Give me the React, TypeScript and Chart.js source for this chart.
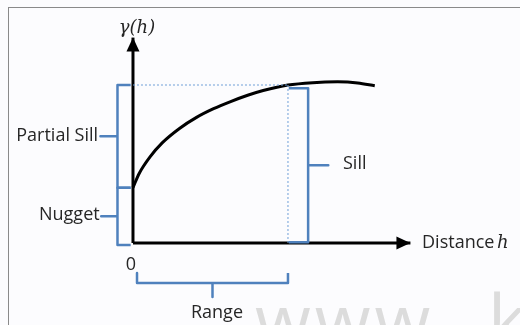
import React, { useEffect, useRef } from "react";
import { Chart, registerables } from "chart.js";

Chart.register(...registerables);

// ---- data (semivariogram sketch) ----
const NUGGET = 3.5;
const SILL = 10;
const RANGE = 10;

// curve: distance h -> gamma(h)
const distance = [0, 0.4, 1.1, 1.9, 3.0, 4.1, 5.2, 6.3, 7.4, 8.4, 10, 11.6, 13.2, 14.5, 15.6];
const gamma = [3.5, 4.4, 5.45, 6.35, 7.25, 7.95, 8.5, 8.95, 9.35, 9.65, 10, 10.15, 10.2, 10.13, 9.95];

const X_AXIS_END = 17.9;
const Y_AXIS_END = 13;

const yAxisTitle = "γ(h)";
const xAxisTitle = ["Distance", "h"];
const bracketLabels = ["Partial Sill", "Nugget", "Sill", "Range"];
const originLabel = "0";
const watermark = "www.k";

// scale window (data units)
const X_MIN = -8.58;
const X_MAX = 24.97;
const Y_MIN = -5.19;
const Y_MAX = 15.38;

type P = { x: number; y: number };

// vertical bracket: caps towards capX, tick towards tickX
function vBracket(lo: number, hi: number, x: number, capX: number, tickX: number): P[] {
  const mid = (lo + hi) / 2;
  return [
    { x: capX, y: hi },
    { x, y: hi },
    { x, y: mid },
    { x: tickX, y: mid },
    { x, y: mid },
    { x, y: lo },
    { x: capX, y: lo },
  ];
}
function hBracket(lo: number, hi: number, y: number, capY: number, tickY: number): P[] {
  const mid = (lo + hi) / 2;
  return [
    { x: lo, y: capY },
    { x: lo, y },
    { x: mid, y },
    { x: mid, y: tickY },
    { x: mid, y },
    { x: hi, y },
    { x: hi, y: capY },
  ];
}

const BLUE = "#4f81bd";
const TEXT = "#262626";

const labelPlugin = {
  id: "labels",
  afterDatasetsDraw(chart: any) {
    const ctx = chart.ctx as CanvasRenderingContext2D;
    const xs = chart.scales.x;
    const ys = chart.scales.y;
    const px = (v: number) => xs.getPixelForValue(v);
    const py = (v: number) => ys.getPixelForValue(v);

    // arrow heads
    chart.data.datasets.forEach((ds: any) => {
      if (!ds.arrow) return;
      const d = ds.data as P[];
      const a = d[d.length - 2];
      const b = d[d.length - 1];
      const x1 = px(a.x), y1 = py(a.y), x2 = px(b.x), y2 = py(b.y);
      const ang = Math.atan2(y2 - y1, x2 - x1);
      const L = 14, W = 6.5;
      ctx.save();
      ctx.fillStyle = "#000";
      ctx.beginPath();
      ctx.moveTo(x2, y2);
      ctx.lineTo(x2 - L * Math.cos(ang) + W * Math.sin(ang), y2 - L * Math.sin(ang) - W * Math.cos(ang));
      ctx.lineTo(x2 - L * Math.cos(ang) - W * Math.sin(ang), y2 - L * Math.sin(ang) + W * Math.cos(ang));
      ctx.closePath();
      ctx.fill();
      ctx.restore();
    });

    ctx.save();
    ctx.textBaseline = "middle";
    ctx.fillStyle = TEXT;
    const sans = "18px 'Open Sans', sans-serif";

    // watermark
    ctx.save();
    ctx.fillStyle = "#dcdcdc";
    ctx.font = "72px 'Open Sans', sans-serif";
    ctx.textBaseline = "alphabetic";
    ctx.textAlign = "left";
    (ctx as any).letterSpacing = "4px";
    ctx.fillText(watermark.slice(0, 4), px(7.87), py(-6.5));
    ctx.fillText(watermark.slice(4), px(22.9), py(-6.5));
    ctx.restore();

    ctx.font = "italic 18px 'DejaVu Serif', serif";
    ctx.textAlign = "center";
    ctx.fillText(yAxisTitle, px(0.26), py(13.6));

    ctx.font = sans;
    ctx.textAlign = "right";
    ctx.fillText(bracketLabels[0], px(-2.25), py((NUGGET + SILL) / 2));
    ctx.fillText(bracketLabels[1], px(-2.15), py(NUGGET / 2));
    ctx.textAlign = "left";
    ctx.fillText(bracketLabels[2], px(13.55), py(SILL / 2));
    ctx.textAlign = "center";
    ctx.fillText(originLabel, px(-0.13), py(-1.39));
    ctx.fillText(bracketLabels[3], px(5.42), py(-4.43));

    ctx.textAlign = "left";
    ctx.fillText(xAxisTitle[0] + " ", px(18.65), py(0));
    const w = ctx.measureText(xAxisTitle[0] + " ").width;
    ctx.font = "italic 18px 'DejaVu Serif', serif";
    ctx.fillText(xAxisTitle[1], px(18.65) + w - 2, py(0));
    ctx.restore();
  },
};

export default function App() {
  const ref = useRef<HTMLCanvasElement | null>(null);

  useEffect(() => {
    document.body.style.margin = "0";
    document.body.style.background = "#fcfcfe";
    const canvas = ref.current!;
    const curve: P[] = distance.map((x, i) => ({ x, y: gamma[i] }));

    const line = (data: P[], color: string, width: number, extra: any = {}) => ({
      data,
      showLine: true,
      borderColor: color,
      backgroundColor: color,
      borderWidth: width,
      pointRadius: 0,
      tension: 0,
      borderJoinStyle: "round",
      borderCapStyle: "butt",
      ...extra,
    });

    const chart = new Chart(canvas, {
      type: "scatter",
      data: {
        datasets: [
          line([{ x: 0, y: SILL }, { x: RANGE, y: SILL }], "#6f9fd8", 1, { borderDash: [2, 2] }),
          line([{ x: RANGE, y: SILL }, { x: RANGE, y: 0 }], "#6f9fd8", 1, { borderDash: [2, 2] }),
          line(vBracket(NUGGET, SILL, -1.0, -0.15, -2.1), BLUE, 2.5),
          line(vBracket(-0.12, NUGGET, -1.0, -0.15, -2.05), BLUE, 2.5),
          line(vBracket(0.05, SILL - 0.2, RANGE + 1.3, RANGE + 0.05, RANGE + 2.6), BLUE, 2.5),
          line(hBracket(0.26, RANGE, -2.53, -1.9, -3.42), BLUE, 2.5),
          line(curve, "#000", 3, { cubicInterpolationMode: "monotone" }),
          line([{ x: 0, y: 0 }, { x: X_AXIS_END - 0.6, y: 0 }, { x: X_AXIS_END, y: 0 }], "#000", 3, { arrow: true }),
          line([{ x: 0, y: 0 }, { x: 0, y: Y_AXIS_END - 0.6 }, { x: 0, y: Y_AXIS_END }], "#000", 3, { arrow: true }),
        ] as any,
      },
      options: {
        responsive: false,
        animation: false,
        devicePixelRatio: 1,
        layout: { padding: 0 },
        events: [],
        plugins: { legend: { display: false }, tooltip: { enabled: false } },
        scales: {
          x: { type: "linear", display: false, min: X_MIN, max: X_MAX },
          y: { type: "linear", display: false, min: Y_MIN, max: Y_MAX },
        },
      },
      plugins: [labelPlugin],
    });
    return () => chart.destroy();
  }, []);

  return (
    <div style={{ position: "absolute", left: 0, top: 0, width: 520, height: 325, overflow: "hidden", background: "#fcfcfe" }}>
      <div
        style={{
          position: "absolute",
          left: 8,
          top: 7,
          right: 0,
          bottom: 0,
          borderTop: "1.5px solid #8a8a8a",
          borderLeft: "1.5px solid #8a8a8a",
        }}
      />
      <canvas ref={ref} width={520} height={325} style={{ position: "absolute", left: 0, top: 0, width: 520, height: 325 }} />
    </div>
  );
}
